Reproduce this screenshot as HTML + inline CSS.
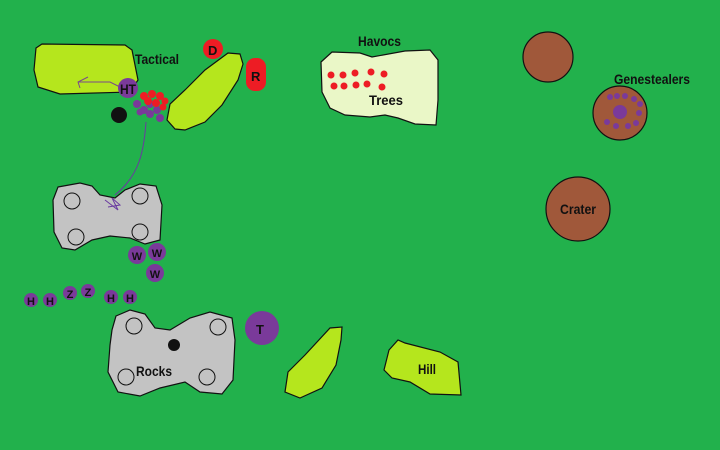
<!DOCTYPE html>
<html><head><meta charset="utf-8"><style>
html,body{margin:0;padding:0;width:720px;height:450px;overflow:hidden;background:#22b14c}
text{font-family:"Liberation Sans Narrow","Liberation Sans",sans-serif;font-weight:bold;fill:#111}
</style></head><body>
<svg width="720" height="450" viewBox="0 0 720 450" xmlns="http://www.w3.org/2000/svg">
<rect width="720" height="450" fill="#22b14c"/>
<g stroke="#111" stroke-width="1.2">
<!-- Tactical forest -->
<path d="M36,48 L42,44 L125,45 L132,50 L135,65 L138,80 L130,92 L60,94 L38,87 L34,70 Z" fill="#b5e61d"/>
<!-- right diagonal forest -->
<path d="M175,129 L167,120 L170,104 L185,90 L205,70 L228,53 L240,54 L243,64 L238,80 L222,105 L205,122 L185,130 Z" fill="#b5e61d"/>
<!-- Trees -->
<path d="M321,62 L332,52 L360,53 L372,57 L405,51 L430,50 L438,60 L438,100 L436,125 L415,124 L398,118 L385,115 L370,117 L345,115 L330,108 L322,92 Z" fill="#eaf7c7"/>
<!-- rocks top -->
<path d="M58,187 L80,183 L92,186 L100,195 L115,198 L125,190 L140,184 L156,186 L162,205 L160,240 L145,244 L130,238 L110,236 L92,240 L75,250 L62,248 L54,232 L53,200 Z" fill="#c3c3c3"/>
<!-- rocks bottom -->
<path d="M116,316 L130,310 L145,314 L155,328 L170,330 L190,318 L210,312 L232,318 L235,340 L233,380 L222,394 L200,392 L185,382 L160,388 L140,396 L118,392 L108,372 L110,345 L112,330 Z" fill="#c3c3c3"/>
<!-- bottom diagonal forest -->
<path d="M285,392 L288,372 L305,355 L330,328 L342,327 L341,340 L336,365 L322,388 L300,398 Z" fill="#b5e61d"/>
<!-- Hill -->
<path d="M384,370 L389,350 L398,340 L405,343 L440,352 L458,362 L461,395 L430,394 L410,382 L392,378 Z" fill="#b5e61d"/>
<!-- brown circles -->
<circle cx="548" cy="57" r="25" fill="#a0583a"/>
<circle cx="620" cy="113" r="27" fill="#a0583a"/>
<circle cx="578" cy="209" r="32" fill="#a0583a"/>
</g>
<!-- rock inner circles -->
<g fill="none" stroke="#111" stroke-width="1">
<circle cx="72" cy="201" r="8"/><circle cx="140" cy="196" r="8"/>
<circle cx="76" cy="237" r="8"/><circle cx="140" cy="232" r="8"/>
<circle cx="134" cy="326" r="8"/><circle cx="218" cy="327" r="8"/>
<circle cx="126" cy="377" r="8"/><circle cx="207" cy="377" r="8"/>
</g>
<!-- arrow sketch in tactical -->
<path d="M80,88 L78,82 L88,77 M78,82 L110,82 L122,88" fill="none" stroke="#7a4a8a" stroke-width="1"/>
<!-- purple trail line -->
<path d="M146,122 C144,150 140,175 115,195 M105,200 L118,210 L112,198 L120,205 L108,207" fill="none" stroke="#6a3aa0" stroke-width="1"/>
<!-- red markers -->
<circle cx="213" cy="49" r="10" fill="#ed1c24"/>
<rect x="246" y="58" width="20" height="33" rx="9" fill="#ed1c24"/>
<!-- cluster -->
<g fill="#7a3a9a">
<circle cx="128" cy="88" r="10"/>
<circle cx="137" cy="104" r="4"/><circle cx="144" cy="110" r="4"/><circle cx="150" cy="114" r="4"/>
<circle cx="140" cy="112" r="3.5"/><circle cx="157" cy="110" r="4"/><circle cx="160" cy="118" r="4"/><circle cx="150" cy="104" r="4"/>
<circle cx="137" cy="255" r="9"/><circle cx="157" cy="252" r="9"/><circle cx="155" cy="273" r="9"/>
<circle cx="31" cy="300" r="7"/><circle cx="50" cy="300" r="7"/><circle cx="70" cy="293" r="7"/><circle cx="88" cy="291" r="7"/><circle cx="111" cy="297" r="7"/><circle cx="130" cy="297" r="7"/>
<circle cx="262" cy="328" r="17"/>
<circle cx="620" cy="112" r="7"/>
<circle cx="610" cy="97" r="3"/><circle cx="617" cy="96" r="3"/><circle cx="625" cy="96" r="3"/><circle cx="634" cy="99" r="3"/><circle cx="640" cy="104" r="3"/><circle cx="639" cy="113" r="3"/><circle cx="636" cy="123" r="3"/><circle cx="628" cy="126" r="3"/><circle cx="616" cy="126" r="3"/><circle cx="607" cy="122" r="3"/>
</g>
<g fill="#ed1c24">
<circle cx="144" cy="96" r="4"/><circle cx="152" cy="94" r="4"/><circle cx="160" cy="96" r="4"/><circle cx="165" cy="101" r="3.5"/><circle cx="148" cy="101" r="4"/><circle cx="156" cy="103" r="4"/><circle cx="163" cy="107" r="3.5"/>
<circle cx="331" cy="75" r="3.5"/><circle cx="343" cy="75" r="3.5"/><circle cx="355" cy="73" r="3.5"/><circle cx="371" cy="72" r="3.5"/><circle cx="384" cy="74" r="3.5"/>
<circle cx="334" cy="86" r="3.5"/><circle cx="344" cy="86" r="3.5"/><circle cx="356" cy="85" r="3.5"/><circle cx="367" cy="84" r="3.5"/><circle cx="382" cy="87" r="3.5"/>
</g>
<g fill="#111"><circle cx="119" cy="115" r="8"/><circle cx="174" cy="345" r="6"/></g>
<g font-size="14">
<text x="135" y="64" textLength="44" lengthAdjust="spacingAndGlyphs">Tactical</text>
<text x="358" y="46" textLength="43" lengthAdjust="spacingAndGlyphs">Havocs</text>
<text x="369" y="105" textLength="34" lengthAdjust="spacingAndGlyphs">Trees</text>
<text x="614" y="84" textLength="76" lengthAdjust="spacingAndGlyphs">Genestealers</text>
<text x="560" y="214" textLength="36" lengthAdjust="spacingAndGlyphs">Crater</text>
<text x="136" y="376" textLength="36" lengthAdjust="spacingAndGlyphs">Rocks</text>
<text x="418" y="374" textLength="18" lengthAdjust="spacingAndGlyphs">Hill</text>
<text x="120" y="94" textLength="16" lengthAdjust="spacingAndGlyphs">HT</text>
<text x="208" y="55" font-size="13">D</text>
<text x="251" y="81" font-size="13">R</text>
<text x="256" y="334" font-size="13">T</text>
</g>
<g font-size="11" text-anchor="middle">
<text x="137" y="260">W</text><text x="157" y="257">W</text><text x="155" y="278">W</text>
<text x="31" y="305">H</text><text x="50" y="305">H</text><text x="70" y="298">Z</text><text x="88" y="296">Z</text><text x="111" y="302">H</text><text x="130" y="302">H</text>
</g>
</svg>
</body></html>
